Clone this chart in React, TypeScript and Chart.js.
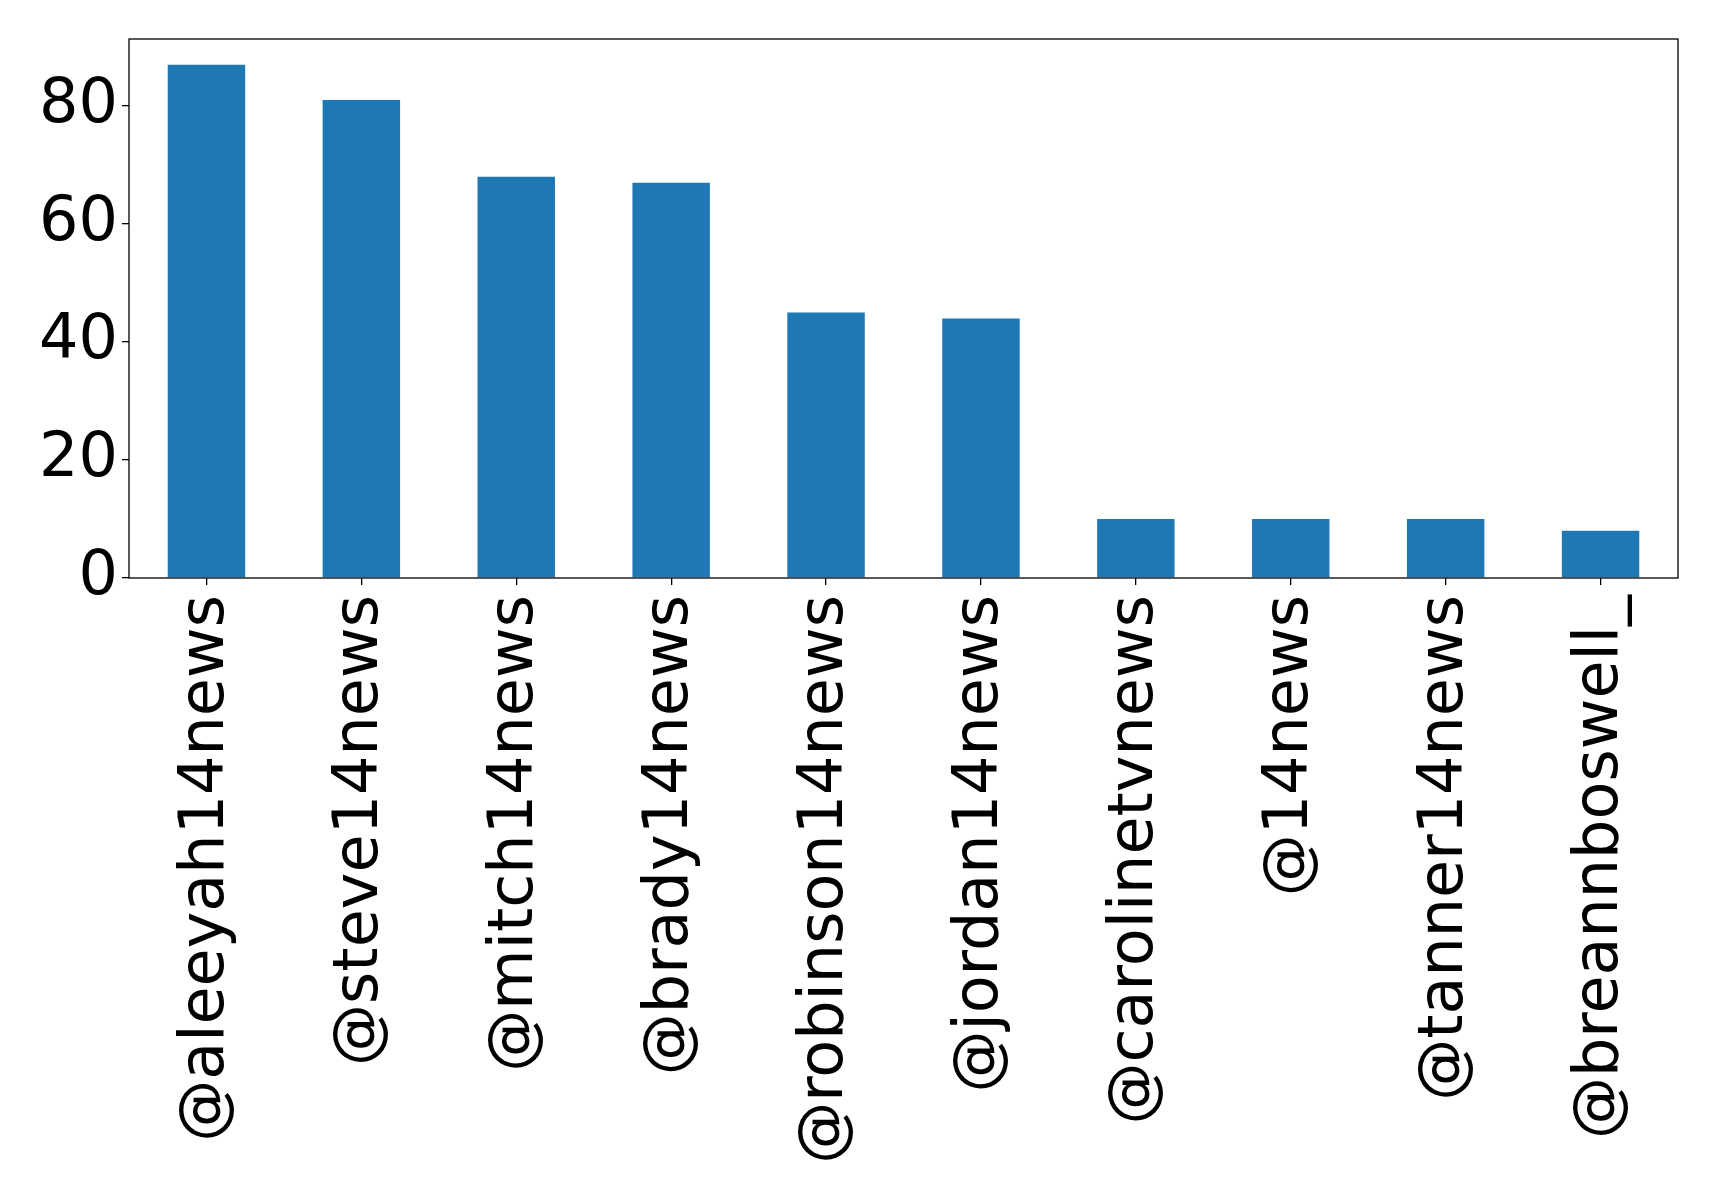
import React, { useEffect, useRef } from 'react';
import { Chart, registerables } from 'chart.js';

Chart.register(...registerables);

const categories = [
  '@aleeyah14news',
  '@steve14news',
  '@mitch14news',
  '@brady14news',
  '@robinson14news',
  '@jordan14news',
  '@carolinetvnews',
  '@14news',
  '@tanner14news',
  '@breannboswell_',
];
const values = [87, 81, 68, 67, 45, 44, 10, 10, 10, 8];
const yTickValues = [0, 20, 40, 60, 80];
const yMax = 91.35;

export default function App() {
  const ref = useRef<HTMLCanvasElement>(null);

  useEffect(() => {
    document.body.style.margin = '0';
    const frame = {
      id: 'frame',
      afterDatasetsDraw(chart: any) {
        const { ctx, chartArea: a } = chart;
        ctx.save();
        ctx.strokeStyle = '#000';
        ctx.lineWidth = 1.3;
        ctx.strokeRect(a.left, a.top, a.right - a.left, a.bottom - a.top);
        ctx.restore();
      },
    };
    const font = { family: '"DejaVu Sans", sans-serif', size: 62 };
    const chart = new Chart(ref.current as HTMLCanvasElement, {
      type: 'bar',
      data: {
        labels: categories,
        datasets: [
          {
            data: values,
            backgroundColor: '#1f77b4',
            barPercentage: 0.5,
            categoryPercentage: 1,
          },
        ],
      },
      options: {
        responsive: false,
        animation: false,
        layout: { padding: { top: 39, right: 41, left: 0, bottom: 0 } },
        plugins: { legend: { display: false }, tooltip: { enabled: false } },
        scales: {
          x: {
            grid: { display: true, offset: false, drawOnChartArea: false, drawTicks: true, tickLength: 7, color: '#000', lineWidth: 1.3 },
            border: { display: false },
            ticks: { maxRotation: 90, minRotation: 90, autoSkip: false, color: '#000', font, padding: 10 },
            afterFit(s: any) {
              s.height = 623;
              s.paddingLeft = 0;
              s.paddingRight = 0;
            },
          },
          y: {
            min: 0,
            max: yMax,
            grid: { display: true, drawOnChartArea: false, drawTicks: true, tickLength: 7, color: '#000', lineWidth: 1.3 },
            border: { display: false },
            ticks: { color: '#000', font, padding: 4 },
            afterBuildTicks(s: any) {
              s.ticks = yTickValues.map((v) => ({ value: v }));
            },
            afterFit(s: any) {
              s.width = 129;
              s.paddingTop = 0;
              s.paddingBottom = 0;
            },
          },
        },
      },
      plugins: [frame],
    } as any);
    return () => chart.destroy();
  }, []);

  return <canvas ref={ref} width={1719} height={1201} style={{ display: 'block' }} />;
}
